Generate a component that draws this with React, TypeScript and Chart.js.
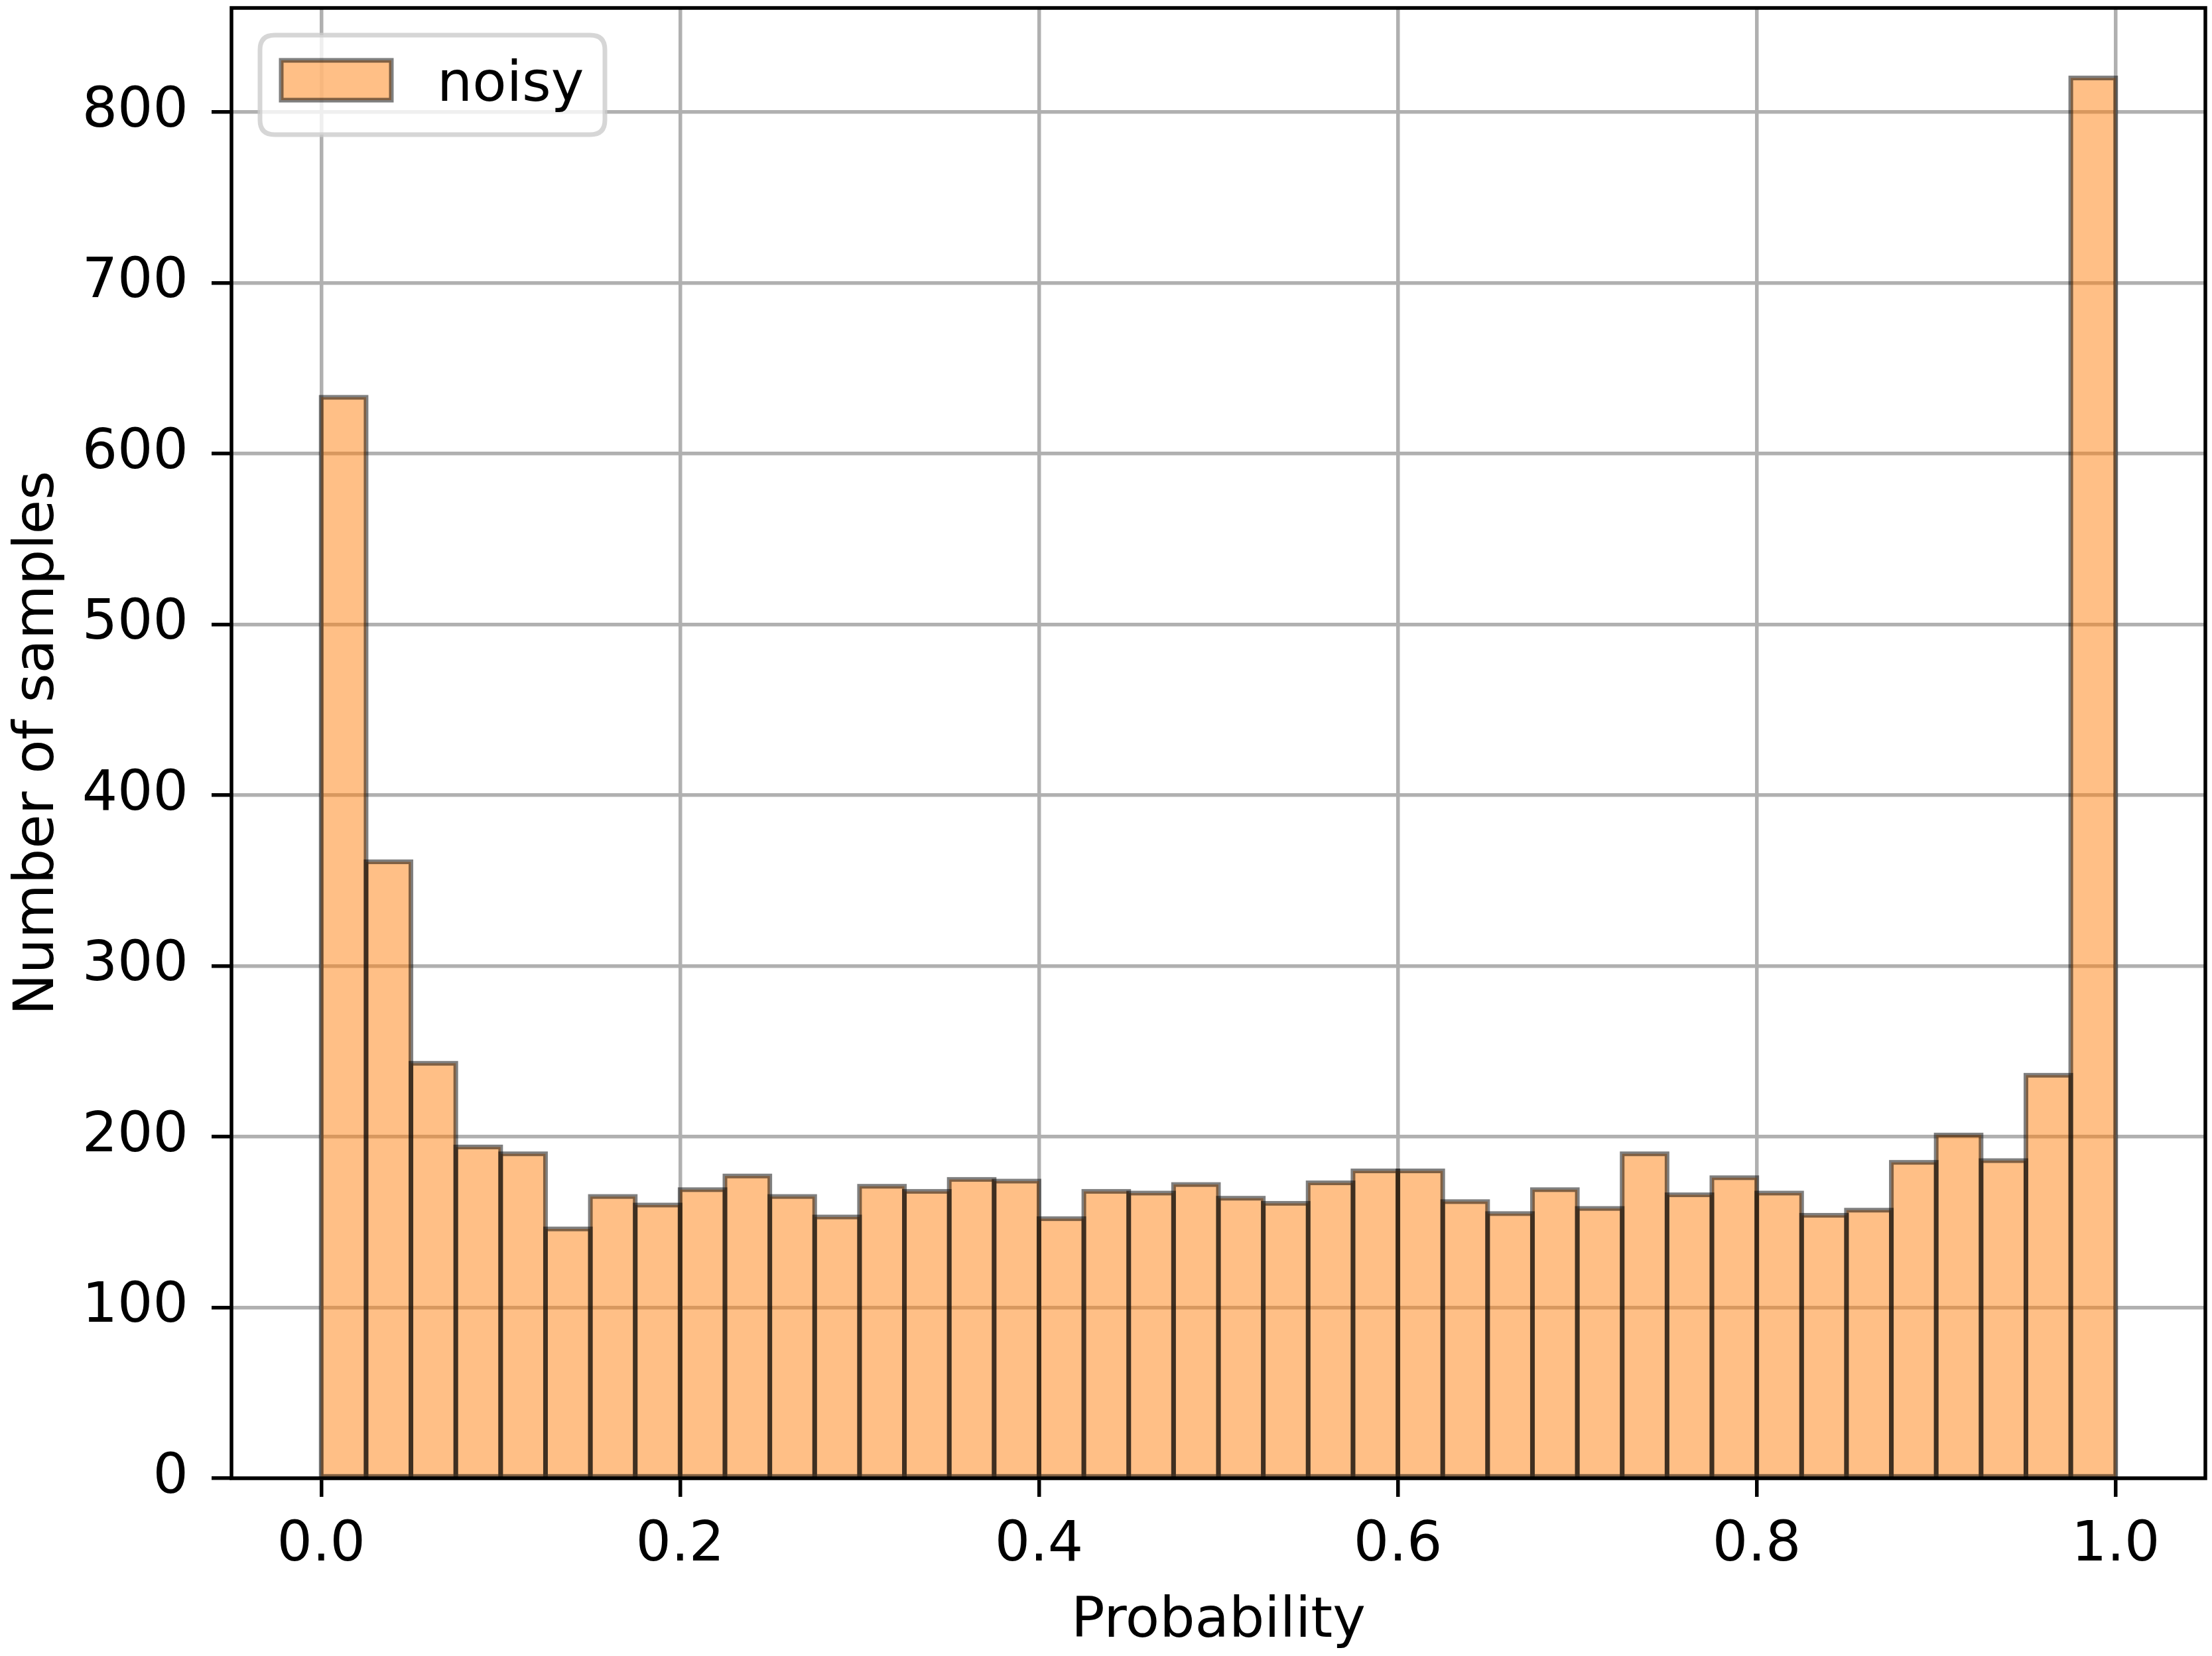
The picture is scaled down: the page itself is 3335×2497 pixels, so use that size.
import React, { useEffect, useRef } from "react";
import { Chart, registerables } from "chart.js";

Chart.register(...registerables);

// ---- data ----
const seriesLabel = "noisy";
const binMin = 0;
const binMax = 1;
const counts = [
  633, 361, 243, 194, 190, 146, 165, 160, 169, 177,
  165, 153, 171, 168, 175, 174, 152, 168, 167, 172,
  164, 161, 173, 180, 180, 162, 155, 169, 158, 190,
  166, 176, 167, 154, 157, 185, 201, 186, 236, 820,
];
const xTickValues = [0.0, 0.2, 0.4, 0.6, 0.8, 1.0];
const yTickValues = [0, 100, 200, 300, 400, 500, 600, 700, 800];
const xTitle = "Probability";
const yTitle = "Number of samples";

const W = 3335;
const H = 2497;
const FONT = "'DejaVu Sans', sans-serif";
const FS = 84;
const FILL = "rgba(255,127,14,0.5)";
const EDGE = "rgba(0,0,0,0.5)";
const GRID = "#b0b0b0";

export default function App() {
  const ref = useRef<HTMLCanvasElement | null>(null);

  useEffect(() => {
    const canvas = ref.current;
    if (!canvas) return;
    const binWidth = (binMax - binMin) / counts.length;
    const points = counts.map((c, i) => ({ x: binMin + (i + 0.5) * binWidth, y: c }));

    const edgePlugin = {
      id: "edges",
      afterDatasetsDraw(chart: any) {
        const ctx = chart.ctx;
        const meta = chart.getDatasetMeta(0);
        ctx.save();
        ctx.strokeStyle = EDGE;
        ctx.lineWidth = 7;
        ctx.lineJoin = "miter";
        meta.data.forEach((bar: any) => {
          const p = bar.getProps(["x", "y", "width", "base"], true);
          const l = p.x - p.width / 2;
          ctx.strokeRect(l, p.y, p.width, p.base - p.y);
        });
        ctx.restore();
      },
    };

    const framePlugin = {
      id: "frame",
      afterDraw(chart: any) {
        const ctx = chart.ctx;
        const a = chart.chartArea;
        ctx.save();
        // spines
        ctx.strokeStyle = "#000";
        ctx.lineWidth = 5.5;
        ctx.lineJoin = "miter";
        ctx.strokeRect(a.left, a.top, a.right - a.left, a.bottom - a.top);
        // legend
        const bx = a.left + 43, by = a.top + 41, bw = 520, bh = 150, r = 22;
        ctx.beginPath();
        ctx.moveTo(bx + r, by);
        ctx.lineTo(bx + bw - r, by);
        ctx.quadraticCurveTo(bx + bw, by, bx + bw, by + r);
        ctx.lineTo(bx + bw, by + bh - r);
        ctx.quadraticCurveTo(bx + bw, by + bh, bx + bw - r, by + bh);
        ctx.lineTo(bx + r, by + bh);
        ctx.quadraticCurveTo(bx, by + bh, bx, by + bh - r);
        ctx.lineTo(bx, by + r);
        ctx.quadraticCurveTo(bx, by, bx + r, by);
        ctx.closePath();
        ctx.fillStyle = "rgba(255,255,255,0.8)";
        ctx.fill();
        ctx.strokeStyle = "rgba(204,204,204,0.8)";
        ctx.lineWidth = 7;
        ctx.stroke();
        // handle
        const hx = a.left + 75, hy = a.top + 79, hw = 166, hh = 60;
        ctx.fillStyle = FILL;
        ctx.fillRect(hx, hy, hw, hh);
        ctx.strokeStyle = EDGE;
        ctx.lineWidth = 7;
        ctx.strokeRect(hx, hy, hw, hh);
        // text
        ctx.fillStyle = "#000";
        ctx.font = `${FS}px ${FONT}`;
        ctx.textBaseline = "alphabetic";
        ctx.textAlign = "left";
        ctx.fillText(chart.data.datasets[0].label, a.left + 310, a.top + 140);
        ctx.restore();
      },
    };

    const chart = new Chart(canvas, {
      type: "bar",
      data: {
        datasets: [
          {
            label: seriesLabel,
            data: points as any,
            backgroundColor: FILL,
            borderWidth: 0,
            barPercentage: 1,
            categoryPercentage: 1,
            inflateAmount: 0,
          } as any,
        ],
      },
      options: {
        responsive: false,
        animation: false,
        devicePixelRatio: 1,
        layout: { padding: { left: 0, top: 12, right: 10, bottom: 0 } },
        plugins: {
          legend: { display: false },
          tooltip: { enabled: false },
        },
        scales: {
          x: {
            type: "linear",
            min: -0.05,
            max: 1.05,
            offset: false,
            z: 1,
            afterBuildTicks: (s: any) => {
              s.ticks = xTickValues.map((v) => ({ value: v }));
            },
            afterFit: (s: any) => {
              s.height = H - 2229;
              s.paddingLeft = 0;
              s.paddingRight = 0;
            },
            border: { display: false },
            grid: {
              offset: false,
              color: GRID,
              lineWidth: 5.5,
              drawTicks: true,
              tickColor: "#000",
              tickWidth: 5.5,
              tickLength: 28,
            },
            ticks: {
              autoSkip: false,
              maxRotation: 0,
              minRotation: 0,
              padding: 24,
              color: "#000",
              font: { family: FONT, size: FS },
              callback: (v: any) => Number(v).toFixed(1),
            },
            title: {
              display: true,
              text: xTitle,
              color: "#000",
              font: { family: FONT, size: FS },
              padding: { top: 0, bottom: 0 },
            },
          },
          y: {
            type: "linear",
            min: 0,
            max: 861,
            z: 1,
            afterBuildTicks: (s: any) => {
              s.ticks = yTickValues.map((v) => ({ value: v }));
            },
            afterFit: (s: any) => {
              s.width = 349;
              s.paddingTop = 0;
              s.paddingBottom = 0;
            },
            border: { display: false },
            grid: {
              color: GRID,
              lineWidth: 5.5,
              drawTicks: true,
              tickColor: "#000",
              tickWidth: 5.5,
              tickLength: 30,
            },
            ticks: {
              padding: 35,
              color: "#000",
              font: { family: FONT, size: FS },
              callback: (v: any) => String(v),
            },
            title: {
              display: true,
              text: yTitle,
              color: "#000",
              font: { family: FONT, size: FS },
              padding: { top: 8, bottom: 0 },
            },
          },
        },
      } as any,
      plugins: [edgePlugin, framePlugin],
    });

    return () => chart.destroy();
  }, []);

  return (
    <canvas
      ref={ref}
      width={W}
      height={H}
      style={{ position: "absolute", left: 0, top: 0, width: W, height: H, background: "#fff" }}
    />
  );
}
